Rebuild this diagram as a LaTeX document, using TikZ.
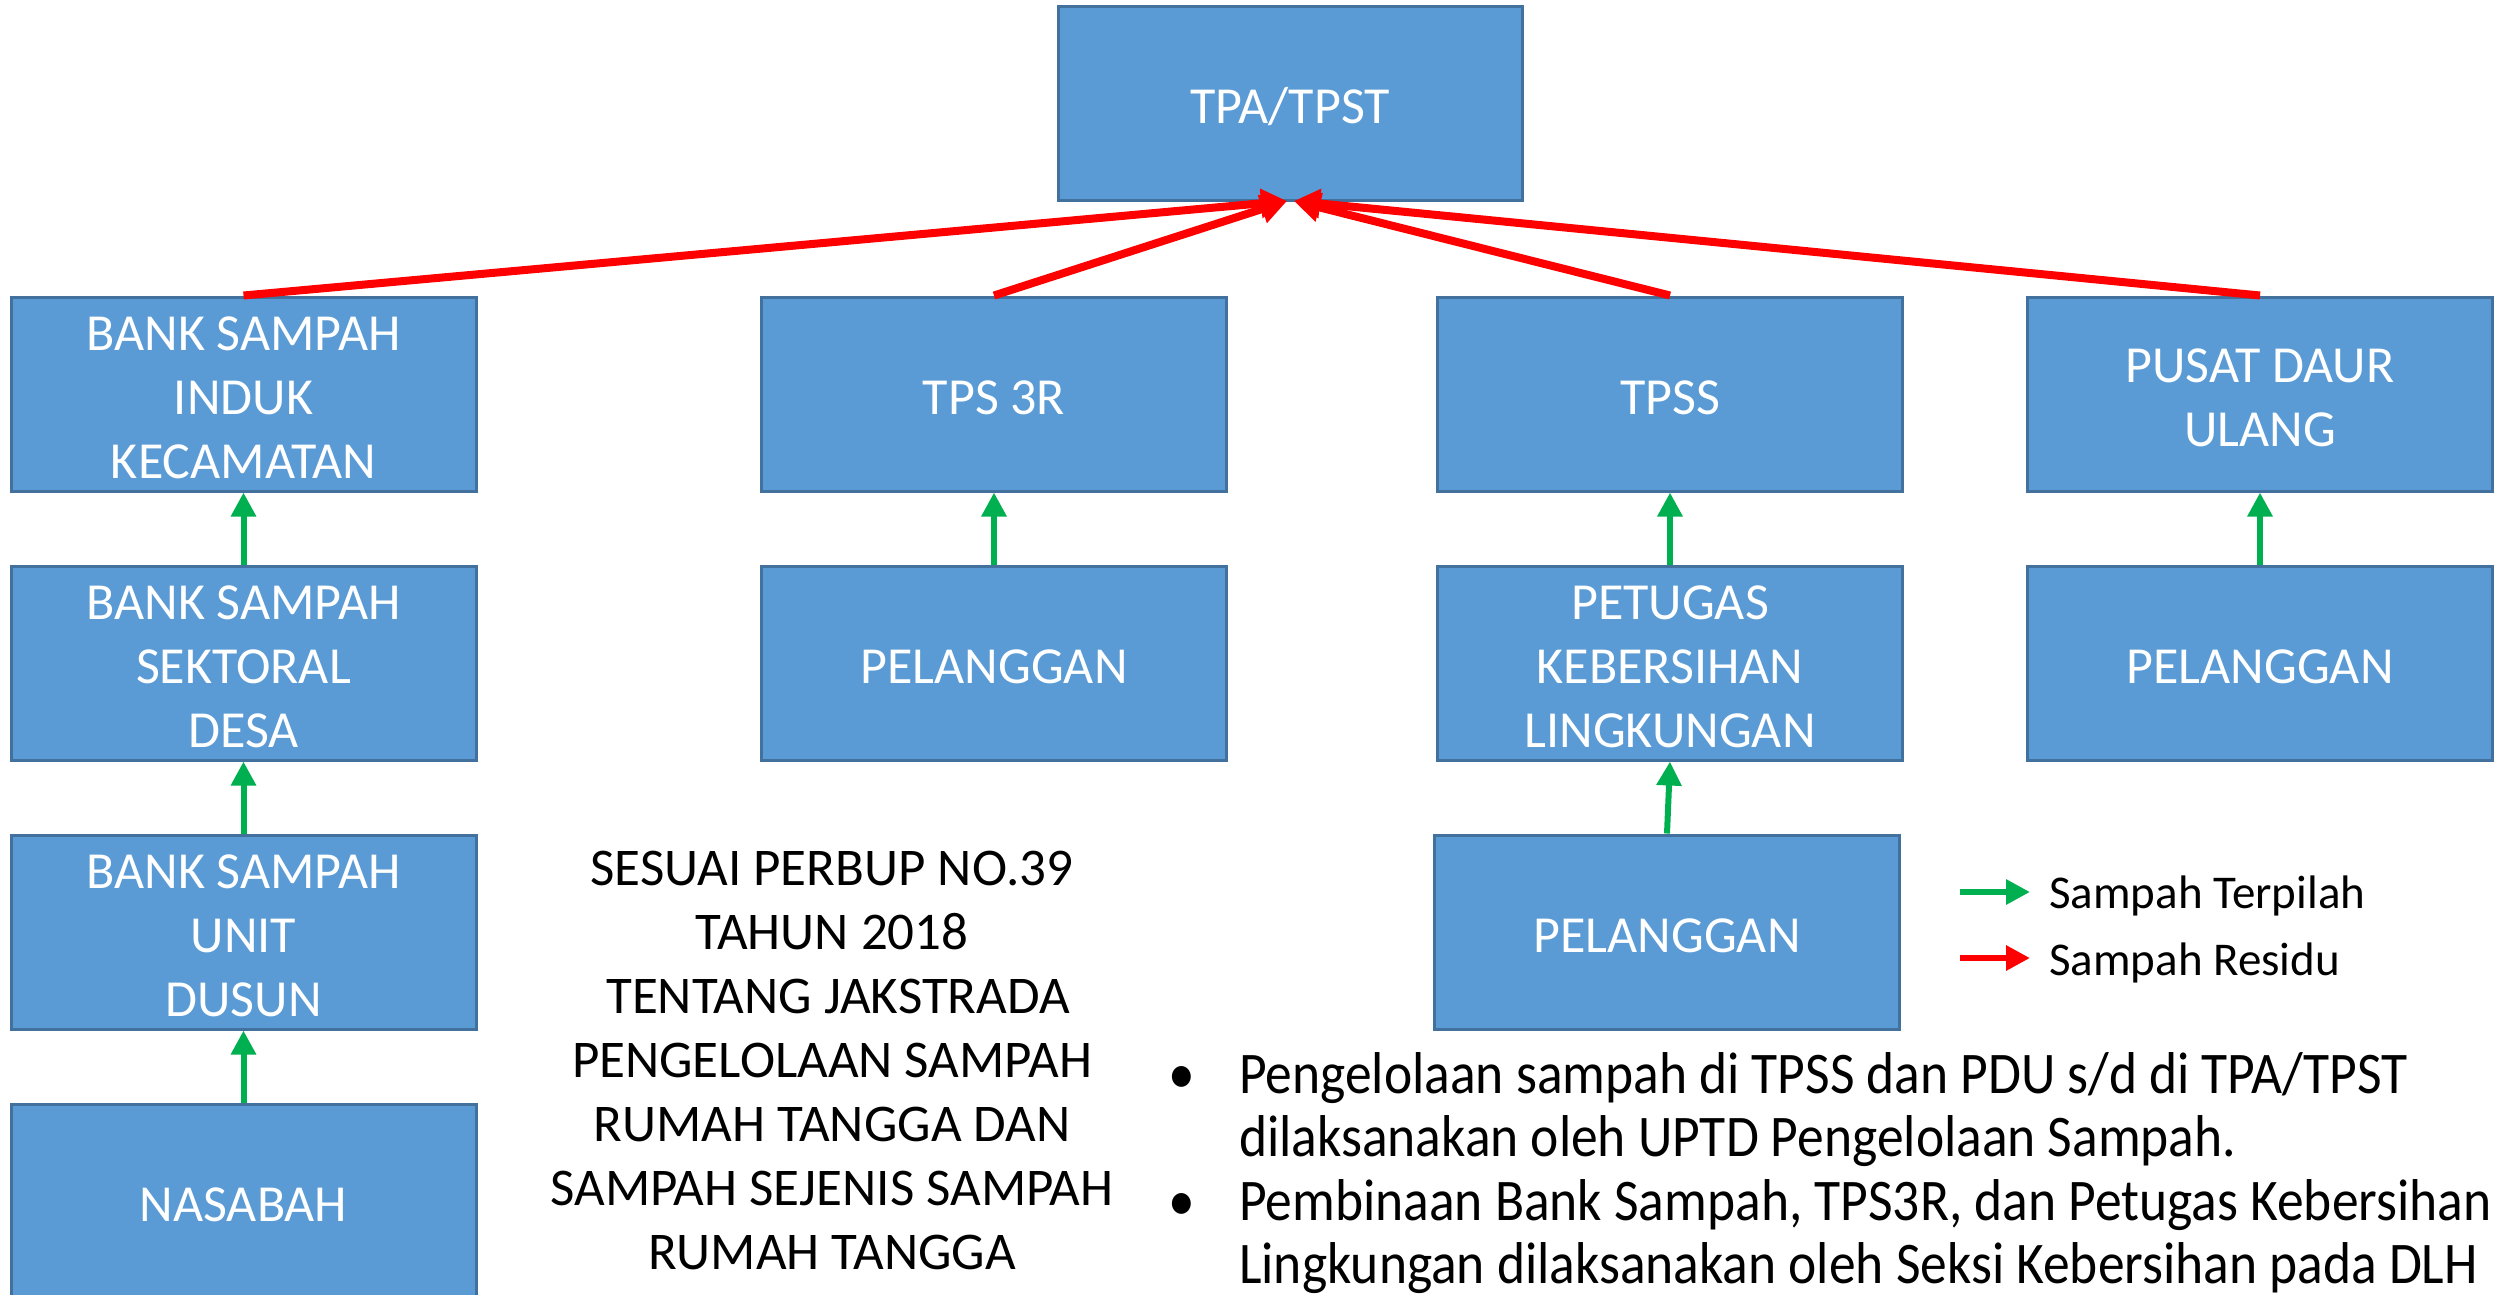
\documentclass[tikz,border=0pt]{standalone}
\usepackage{fontspec}
\setmainfont{Carlito}
\newfontfamily\condfont[FakeStretch=0.907]{Carlito}
\usetikzlibrary{arrows.meta}
\definecolor{boxfill}{HTML}{5B9BD5}
\definecolor{boxline}{HTML}{41719C}
\definecolor{arrgreen}{HTML}{00B050}
\definecolor{arrred}{HTML}{FF0000}
\tikzset{
  flowbox/.style={draw=boxline, fill=boxfill, line width=3pt, minimum width=465pt, minimum height=194pt,
    inner sep=0pt},
  boxtext/.style={inner sep=0pt, text=white, align=center, font=\fontsize{52}{64}\selectfont},
  greenarr/.style={draw=arrgreen, line width=6pt, -{Triangle[length=24pt,width=24pt]}},
  redarr/.style={draw=arrred, line width=8pt, -{Triangle[length=26pt,width=28pt]}},
  legtext/.style={anchor=base west, inner sep=0pt, font=\fontsize{47}{56}\selectfont},
  bultext/.style={anchor=base west, inner sep=0pt, font=\condfont\fontsize{59}{64}\selectfont},
}
\begin{document}
\begin{tikzpicture}[x=1pt,y=-1pt]
\useasboundingbox (0,0) rectangle (2494,1294);
\fill[white] (0,0) rectangle (2494,1294);
\clip (0,0) rectangle (2494,1294);

\node[flowbox, minimum width=464pt] (tpa) at (1290,103) {};
\node[boxtext] (tpat) at ([yshift=-4pt]tpa.center) {TPA/TPST};

\node[flowbox] (a1) at (243.5,394) {};
\node[boxtext] (a1t) at ([yshift=-4pt]a1.center) {BANK SAMPAH\\INDUK\\KECAMATAN};
\node[flowbox] (a2) at (243.5,663) {};
\node[boxtext] (a2t) at ([yshift=-4pt]a2.center) {BANK SAMPAH\\SEKTORAL\\DESA};
\node[flowbox] (a3) at (243.5,932) {};
\node[boxtext] (a3t) at ([yshift=-4pt]a3.center) {BANK SAMPAH\\UNIT\\DUSUN};
\node[flowbox] (a4) at (243.5,1201) {};
\node[boxtext] (a4t) at ([yshift=-4pt]a4.center) {NASABAH};

\node[flowbox] (b1) at (994,394) {};
\node[boxtext] (b1t) at ([yshift=-4pt]b1.center) {TPS 3R};
\node[flowbox] (b2) at (994,663) {};
\node[boxtext] (b2t) at ([yshift=-4pt]b2.center) {PELANGGAN};

\node[flowbox] (c1) at (1670,394) {};
\node[boxtext] (c1t) at ([yshift=-4pt]c1.center) {TPSS};
\node[flowbox] (c2) at (1670,663) {};
\node[boxtext] (c2t) at ([yshift=-4pt]c2.center) {PETUGAS\\KEBERSIHAN\\LINGKUNGAN};
\node[flowbox] (c3) at (1667,932) {};
\node[boxtext] (c3t) at ([yshift=-4pt]c3.center) {PELANGGAN};

\node[flowbox] (d1) at (2260,394) {};
\node[boxtext] (d1t) at ([yshift=-4pt]d1.center) {PUSAT DAUR\\ULANG};
\node[flowbox] (d2) at (2260,663) {};
\node[boxtext] (d2t) at ([yshift=-4pt]d2.center) {PELANGGAN};

% red residue arrows
\coordinate (tipL) at (1287,201);
\coordinate (tipR) at (1294,201);
\draw[redarr] (a1.north) -- (tipL);
\draw[redarr] (b1.north) -- (tipL);
\draw[redarr] (c1.north) -- (tipR);
\draw[redarr] (d1.north) -- (tipR);

% green sorted arrows
\draw[greenarr] (a2.north) -- (a1.south);
\draw[greenarr] (a3.north) -- (a2.south);
\draw[greenarr] (a4.north) -- (a3.south);
\draw[greenarr] (b2.north) -- (b1.south);
\draw[greenarr] (c2.north) -- (c1.south);
\draw[greenarr] (c3.north) -- (c2.south);
\draw[greenarr] (d2.north) -- (d1.south);

% legend
\coordinate (lg1) at (1960,892);
\coordinate (lg2) at (2030,892);
\coordinate (lr1) at (1960,958);
\coordinate (lr2) at (2030,958);
\draw[greenarr] (lg1) -- (lg2);
\draw[redarr, line width=6pt, -{Triangle[length=24pt,width=24pt]}] (lr1) -- (lr2);
\node[legtext] (lgt) at (2049,908) {Sampah Terpilah};
\node[legtext] (lrt) at (2049,975) {Sampah Residu};

% regulation text
\node[align=center, inner sep=0pt, font=\fontsize{53}{64}\selectfont] (perbup) at (832,1060)
 {SESUAI PERBUP NO.39\\TAHUN 2018\\\ TENTANG JAKSTRADA\\PENGELOLAAN SAMPAH\\RUMAH TANGGA DAN\\SAMPAH SEJENIS SAMPAH\\RUMAH TANGGA};

% bullets
\node[bultext] (bu1) at (1168,1093) {•};
\node[bultext] (l1) at (1239,1093) {Pengelolaan sampah di TPSS dan PDU s/d di TPA/TPST};
\node[bultext] (l2) at (1239,1156) {dilaksanakan oleh UPTD Pengelolaan Sampah.};
\node[bultext] (bu2) at (1168,1220) {•};
\node[bultext] (l3) at (1239,1220) {Pembinaan Bank Sampah, TPS3R, dan Petugas Kebersihan};
\node[bultext] (l4) at (1239,1283) {Lingkungan dilaksanakan oleh Seksi Kebersihan pada DLH};
\end{tikzpicture}
\end{document}
